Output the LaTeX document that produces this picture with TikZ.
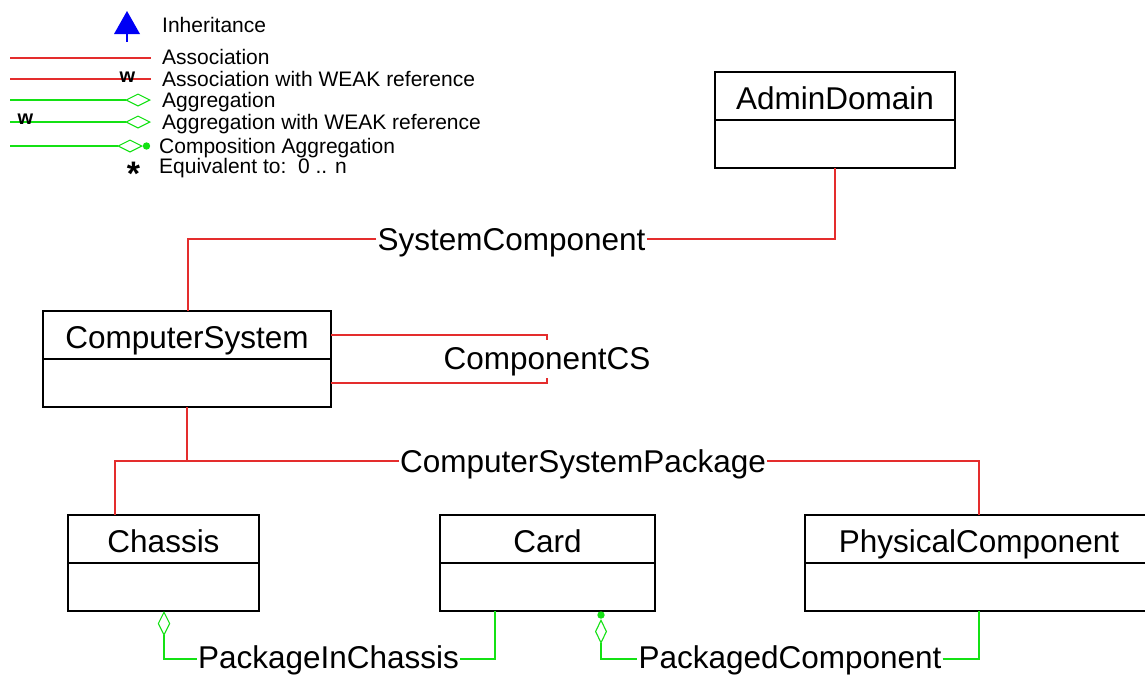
\documentclass[tikz,border=0pt]{standalone}
\usepackage{fontspec}
\setmainfont{Liberation Sans}
\usetikzlibrary{arrows.meta,calc}
\definecolor{assoc}{RGB}{228,45,45}
\definecolor{aggr}{RGB}{20,225,20}
\definecolor{inh}{RGB}{0,0,245}
\begin{document}
\begin{tikzpicture}[x=1pt,y=-1pt,
  cls/.style={draw=black,line width=1.6pt,minimum height=96pt,inner sep=0pt,outer sep=0pt},
  divider/.style={draw=black,line width=1.6pt},
  ttl/.style={font=\fontsize{31.5}{36}\selectfont,anchor=base,inner sep=0pt},
  lbl/.style={font=\fontsize{31.5}{36}\selectfont,anchor=base,inner xsep=1pt,inner ysep=0pt},
  leg/.style={font=\fontsize{21}{24}\selectfont,anchor=base west,inner sep=0pt},
  weak/.style={font=\fontsize{20}{22}\selectfont\bfseries,anchor=base,inner sep=0pt},
  asc/.style={draw=assoc,line width=1.1pt},
  agg/.style={draw=aggr,line width=1.1pt}
]
\useasboundingbox (0,0) rectangle (1145,675);

% ---------- Legend ----------
\fill[inh] (127,11) -- (140,34) -- (114,34) -- cycle;
\draw[inh,line width=2pt] (127,33) -- (127,42);
\node[leg] (l1) at (162,32) {Inheritance};

\draw[asc] (10,58) -- (151,58);
\node[leg] (l2) at (162,64) {Association};

\draw[asc] (10,79) -- (151,79);
\node[weak] (w1) at (127.5,82) {w};
\node[leg] (l3) at (162,86) {Association with WEAK reference};

\draw[agg,-{Diamond[open,length=26pt,width=13pt]}] (10,100) -- (151,100);
\node[leg] (l4) at (162,107) {Aggregation};

\draw[agg,-{Diamond[open,length=26pt,width=13pt]}] (10,122) -- (151,122);
\node[weak] (w2) at (25.5,124) {w};
\node[leg] (l5) at (162,129) {Aggregation with WEAK reference};

\draw[agg,-{Diamond[open,length=26pt,width=13pt]}] (10,146) -- (143,146);
\fill[aggr] (146.5,146) circle (3.7pt);
\node[leg] (l6) at (159,153) {Composition Aggregation};

\node[font=\fontsize{34}{36}\selectfont\bfseries,anchor=base,inner sep=0pt] (ast) at (133.5,185) {*};
\node[leg] (l7) at (159,173) {Equivalent to:\ \ 0 .. n};

% ---------- Classes ----------
\node[cls,minimum width=240pt] (ad) at (835,120) {};
\draw[divider] (ad.west) -- (ad.east);
\node[ttl] (adt) at ($(ad.north)+(0,37)$) {AdminDomain};

\node[cls,minimum width=288pt] (cs) at (187,359) {};
\draw[divider] (cs.west) -- (cs.east);
\node[ttl] (cst) at ($(cs.north)+(0,37)$) {ComputerSystem};

\node[cls,minimum width=191pt] (ch) at (163.5,563) {};
\draw[divider] (ch.west) -- (ch.east);
\node[ttl] (cht) at ($(ch.north)+(0,37)$) {Chassis};

\node[cls,minimum width=215pt] (cd) at (547.5,563) {};
\draw[divider] (cd.west) -- (cd.east);
\node[ttl] (cdt) at ($(cd.north)+(0,37)$) {Card};

\node[cls,minimum width=348pt] (pc) at (979,563) {};
\draw[divider] (pc.west) -- (pc.east);
\node[ttl] (pct) at ($(pc.north)+(0,37)$) {PhysicalComponent};

% ---------- SystemComponent ----------
\node[lbl] (sc) at (511.5,250) {SystemComponent};
\coordinate (sc1) at (835,239);
\coordinate (sc2) at (188,239);
\draw[asc] (ad.south) -- (sc1) -- (sc1 -| sc.east);
\draw[asc] (sc.west |- sc2) -- (sc2) -- (sc2 |- cs.north);

% ---------- ComponentCS ----------
\node[lbl] (ccs) at (547,369) {ComponentCS};
\coordinate (cc1) at (547,335);
\coordinate (cc2) at (547,383);
\draw[asc] (cs.east |- cc1) -- (cc1) -- ++(0,5);
\draw[asc] (cs.east |- cc2) -- (cc2) -- ++(0,-5);

% ---------- ComputerSystemPackage ----------
\node[lbl] (csp) at (583,472) {ComputerSystemPackage};
\coordinate (p0) at (187,461);
\coordinate (pl) at (115,461);
\coordinate (pr) at (979,461);
\draw[asc] (cs.south) -- (p0);
\draw[asc] (pl |- ch.north) -- (pl) -- (csp.west |- pl);
\draw[asc] (csp.east |- pr) -- (pr) -- (pc.north);

% ---------- PackageInChassis ----------
\node[lbl] (pic) at (328.5,668) {PackageInChassis};
\coordinate (q1) at (164,659);
\coordinate (q2) at (495,659);
\draw[agg,{Diamond[open,length=25pt,width=12.5pt]}-] (q1 |- ch.south) -- (q1) -- (pic.west |- q1);
\draw[agg] (pic.east |- q2) -- (q2) -- (q2 |- cd.south);

% ---------- PackagedComponent ----------
\node[lbl] (pkc) at (790,668) {PackagedComponent};
\coordinate (dot) at (601,615);
\coordinate (r1) at (601,659);
\coordinate (r2) at (979,659);
\fill[aggr] (dot) circle (3.7pt);
\draw[agg,{Diamond[open,length=25pt,width=12pt]}-] ($(dot)+(0,4)$) -- (r1) -- (pkc.west |- r1);
\draw[agg] (pkc.east |- r2) -- (r2) -- (pc.south);
\end{tikzpicture}
\end{document}
